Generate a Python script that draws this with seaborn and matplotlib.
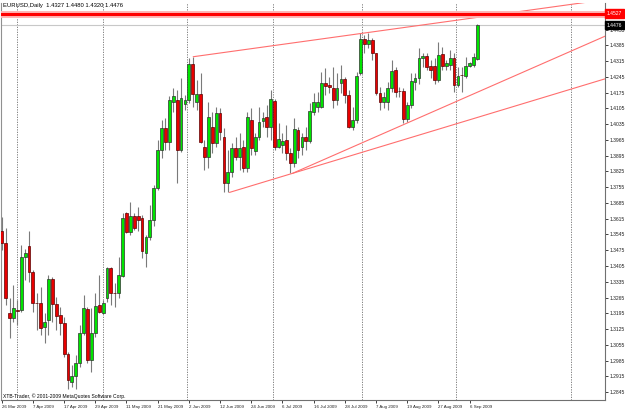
import matplotlib
matplotlib.use("Agg")
import matplotlib.pyplot as plt
import matplotlib.transforms as mtransforms
import numpy as np
import seaborn as sns

# EURUSD daily bars (26 Mar 2009 .. 8 Sep 2009)
opens = [1.3562, 1.3506, 1.3195, 1.3173, 1.3210, 1.3210, 1.3444, 1.3494, 1.3377, 1.3242,
         1.3239, 1.3133, 1.3165, 1.3346, 1.3235, 1.3186, 1.3153, 1.3013, 1.2891, 1.2916,
         1.2973, 1.3106, 1.3214, 1.2987, 1.3106, 1.3232, 1.3197, 1.3261, 1.3395, 1.3286,
         1.3286, 1.3362, 1.3639, 1.3557, 1.3627, 1.3627, 1.3617, 1.3464, 1.3535, 1.3610,
         1.3750, 1.3920, 1.4018, 1.3954, 1.4134, 1.4143, 1.3920, 1.4125, 1.4143, 1.4303,
         1.4135, 1.4169, 1.3932, 1.3891, 1.4024, 1.3953, 1.4086, 1.3977, 1.3772, 1.3821,
         1.3931, 1.3888, 1.3935, 1.3839, 1.4054, 1.3917, 1.3980, 1.4051, 1.4066, 1.4021,
         1.4140, 1.3935, 1.3943, 1.3965, 1.3906, 1.3861, 1.4009, 1.3932, 1.3977, 1.3962,
         1.4091, 1.4113, 1.4113, 1.4220, 1.4209, 1.4194, 1.4143, 1.4220, 1.4235, 1.4165,
         1.4021, 1.4054, 1.4261, 1.4412, 1.4392, 1.4409, 1.4350, 1.4175, 1.4135, 1.4135,
         1.4195, 1.4276, 1.4184, 1.4183, 1.4057, 1.4121, 1.4224, 1.4239, 1.4328, 1.4338,
         1.4294, 1.4294, 1.4232, 1.4346, 1.4294, 1.4298, 1.4328, 1.4209, 1.4254, 1.4249,
         1.4295, 1.4298, 1.4327]
highs = [1.3624, 1.3573, 1.3261, 1.3321, 1.3254, 1.3497, 1.3479, 1.3562, 1.3388, 1.3284,
         1.3313, 1.3195, 1.3365, 1.3357, 1.3269, 1.3224, 1.3180, 1.3024, 1.2965, 1.3010,
         1.3143, 1.3276, 1.3224, 1.3218, 1.3284, 1.3365, 1.3254, 1.3402, 1.3402, 1.3328,
         1.3446, 1.3639, 1.3646, 1.3691, 1.3639, 1.3669, 1.3631, 1.3542, 1.3676, 1.3765,
         1.3965, 1.4054, 1.4063, 1.4161, 1.4196, 1.4187, 1.4239, 1.4165, 1.4328, 1.4335,
         1.4232, 1.4261, 1.3965, 1.4135, 1.4091, 1.4113, 1.4105, 1.4017, 1.3920, 1.3950,
         1.3980, 1.3995, 1.3965, 1.4091, 1.4105, 1.3995, 1.4113, 1.4091, 1.4120, 1.4187,
         1.4146, 1.4039, 1.3995, 1.4032, 1.3928, 1.4061, 1.4024, 1.3995, 1.4024, 1.4128,
         1.4172, 1.4179, 1.4269, 1.4283, 1.4246, 1.4291, 1.4261, 1.4299, 1.4246, 1.4187,
         1.4113, 1.4269, 1.4439, 1.4432, 1.4442, 1.4417, 1.4353, 1.4202, 1.4180, 1.4224,
         1.4320, 1.4291, 1.4202, 1.4195, 1.4135, 1.4261, 1.4261, 1.4372, 1.4350, 1.4350,
         1.4320, 1.4328, 1.4402, 1.4380, 1.4320, 1.4365, 1.4350, 1.4291, 1.4291, 1.4335,
         1.4313, 1.4350, 1.4480]
lows = [1.3476, 1.3232, 1.3084, 1.3158, 1.3143, 1.3200, 1.3343, 1.3335, 1.3202, 1.3121,
        1.3098, 1.3062, 1.3098, 1.3158, 1.3121, 1.3098, 1.3002, 1.2857, 1.2869, 1.2857,
        1.2958, 1.3098, 1.2973, 1.2935, 1.3091, 1.3195, 1.3192, 1.3246, 1.3232, 1.3224,
        1.3261, 1.3356, 1.3552, 1.3542, 1.3565, 1.3559, 1.3439, 1.3402, 1.3520, 1.3583,
        1.3743, 1.3884, 1.3920, 1.3920, 1.4090, 1.3774, 1.3913, 1.4098, 1.4128, 1.4113,
        1.4098, 1.3950, 1.3832, 1.3839, 1.3906, 1.3935, 1.3965, 1.3735, 1.3732, 1.3802,
        1.3876, 1.3832, 1.3824, 1.3824, 1.3898, 1.3898, 1.3965, 1.4021, 1.3980, 1.3965,
        1.3920, 1.3928, 1.3906, 1.3876, 1.3817, 1.3846, 1.3883, 1.3898, 1.3920, 1.3950,
        1.4076, 1.4091, 1.4105, 1.4165, 1.4172, 1.4105, 1.4120, 1.4172, 1.4128, 1.4017,
        1.4009, 1.4039, 1.4254, 1.4350, 1.4372, 1.4320, 1.4165, 1.4098, 1.4106, 1.4098,
        1.4180, 1.4157, 1.4157, 1.4039, 1.4047, 1.4106, 1.4187, 1.4216, 1.4291, 1.4276,
        1.4239, 1.4216, 1.4224, 1.4276, 1.4276, 1.4276, 1.4180, 1.4202, 1.4180, 1.4239,
        1.4291, 1.4291, 1.4320]
closes = [1.3509, 1.3261, 1.3173, 1.3217, 1.3207, 1.3444, 1.3461, 1.3380, 1.3242, 1.3241,
          1.3128, 1.3158, 1.3346, 1.3236, 1.3184, 1.3153, 1.3014, 1.2898, 1.2916, 1.2973,
          1.3106, 1.3217, 1.2987, 1.3106, 1.3227, 1.3199, 1.3239, 1.3395, 1.3286, 1.3285,
          1.3365, 1.3617, 1.3557, 1.3627, 1.3573, 1.3610, 1.3473, 1.3535, 1.3610, 1.3750,
          1.3920, 1.4018, 1.3956, 1.4143, 1.4161, 1.3920, 1.4150, 1.4143, 1.4303, 1.4169,
          1.4169, 1.3957, 1.3888, 1.4066, 1.3953, 1.4086, 1.4002, 1.3772, 1.3821, 1.3931,
          1.3891, 1.3928, 1.3839, 1.4066, 1.3928, 1.3980, 1.4046, 1.4061, 1.4021, 1.4146,
          1.3935, 1.3969, 1.3960, 1.3906, 1.3861, 1.4014, 1.3920, 1.3977, 1.3962, 1.4094,
          1.4132, 1.4135, 1.4220, 1.4205, 1.4199, 1.4143, 1.4194, 1.4235, 1.4165, 1.4021,
          1.4054, 1.4249, 1.4412, 1.4392, 1.4409, 1.4350, 1.4175, 1.4135, 1.4155, 1.4195,
          1.4273, 1.4180, 1.4181, 1.4057, 1.4121, 1.4229, 1.4239, 1.4328, 1.4338, 1.4291,
          1.4276, 1.4232, 1.4343, 1.4294, 1.4306, 1.4328, 1.4209, 1.4249, 1.4252, 1.4295,
          1.4306, 1.4332, 1.4476]

date_ticks = [0, 8, 16, 24, 32, 40, 48, 56, 64, 72, 80, 88, 96, 104, 112, 120]
date_labels = ["26 Mar 2009", "7 Apr 2009", "17 Apr 2009", "29 Apr 2009", "11 May 2009",
               "21 May 2009", "2 Jun 2009", "12 Jun 2009", "24 Jun 2009", "6 Jul 2009",
               "16 Jul 2009", "28 Jul 2009", "7 Aug 2009", "19 Aug 2009", "27 Aug 2009",
               "6 Sep 2009"]
price_ticks = [1.2845, 1.2915, 1.2985, 1.3055, 1.3125, 1.3195, 1.3265, 1.3335, 1.3405,
               1.3475, 1.3545, 1.3615, 1.3685, 1.3755, 1.3825, 1.3895, 1.3965, 1.4035,
               1.4105, 1.4175, 1.4245, 1.4315, 1.4385, 1.4455]
month_starts = [4, 26, 47.5, 69.5, 92.5, 116.5, 146]

# hand drawn rays: (bar, price) -> (bar, price)
trend_lines = [((49.1, 1.4335), (92.0, 1.4438)),
               ((58.4, 1.3732), (104.0, 1.3971)),
               ((74.6, 1.3817), (103.0, 1.4033))]
resistance = 1.4527
last_price = 1.4476
header = "EURUSD,Daily  1.4327 1.4480 1.4320 1.4476"
copyright_txt = "XTB-Trader, \u00a9 2001-2009 MetaQuotes Software Corp."

sns.set_theme(style="white")
plt.rcParams['font.family'] = ['Liberation Sans', 'DejaVu Sans']

fig = plt.figure(figsize=(6.25, 4.09), dpi=100)
fig.patch.set_facecolor("white")
ax = fig.add_axes([1 / 625, 9 / 409, 604 / 625, 397 / 409])
ax.set_facecolor("white")

bars = np.arange(len(opens))
o = np.array(opens)
c = np.array(closes)
up = c >= o
body_lo = np.minimum(o, c)
body_h = np.maximum(np.abs(c - o), 0.00012)

# month separators and bid line
for m in month_starts:
    ax.axvline(m, color="#6e6e6e", lw=0.6, ls=(0, (1.5, 1.5)), zorder=1)
ax.axhline(last_price, color="#c8c8c8", lw=0.8, zorder=1)

# candles
ax.vlines(bars, lows, highs, color="#7a7a7a", lw=0.8, zorder=2)
ax.bar(bars[up], body_h[up], bottom=body_lo[up], width=0.72,
       color="#00e400", edgecolor="#303030", lw=0.5, zorder=3)
ax.bar(bars[~up], body_h[~up], bottom=body_lo[~up], width=0.72,
       color="#e80000", edgecolor="#5a0000", lw=0.5, zorder=3)

# rays
for (b0, p0), (b1, p1) in trend_lines:
    slope = (p1 - p0) / (b1 - b0)
    sns.lineplot(x=[b0, 170], y=[p0, p0 + slope * (170 - b0)], ax=ax,
                 color="#ff6e6e", lw=0.8, zorder=4)

# resistance band
ax.axhline(resistance, color="#ffb4b4", lw=5, zorder=4)
ax.axhline(resistance, color="#ff0000", lw=2.2, zorder=5)

ax.set_xlim(-0.18, 154.7)
ax.set_ylim(1.28095, 1.45738)

ax.yaxis.tick_right()
ax.set_yticks(price_ticks)
ax.set_yticklabels([f"{p:.4f}" for p in price_ticks])
ax.set_xticks(date_ticks)
ax.set_xticklabels(date_labels)
for lbl in ax.get_xticklabels():
    lbl.set_ha("left")
ax.tick_params(axis="y", right=True, left=False, length=2, width=0.6, pad=1.5,
               labelsize=3.6, colors="#202020")
ax.tick_params(axis="x", bottom=True, length=2, width=0.6, pad=1.5,
               labelsize=3.2, colors="#202020")
ax.set_xlabel("")
ax.set_ylabel("")

ax.spines["top"].set_visible(False)
ax.spines["left"].set_color("#909090")
ax.spines["right"].set_color("#707070")
ax.spines["bottom"].set_color("#707070")
for side in ["left", "right", "bottom"]:
    ax.spines[side].set_linewidth(0.8)

# price boxes on the scale
trans = mtransforms.blended_transform_factory(ax.transAxes, ax.transData)
ax.text(1.003, last_price, f"{last_price:.4f}", transform=trans, color="white",
        fontsize=3.6, va="center", ha="left", clip_on=False, zorder=10,
        bbox=dict(boxstyle="square,pad=0.35", fc="black", ec="black"))
ax.text(1.003, resistance, f"{resistance:.4f}", transform=trans, color="white",
        fontsize=3.6, va="center", ha="left", clip_on=False, zorder=10,
        bbox=dict(boxstyle="square,pad=0.35", fc="#ff0000", ec="#ff0000"))

fig.text(3 / 625, 1 - 5 / 409, header, fontsize=4.2, va="center", ha="left", color="black")
fig.text(3 / 625, 1 - 396 / 409, copyright_txt, fontsize=3.6, va="center", ha="left",
         color="black")

fig.savefig("out.png", dpi=100)
